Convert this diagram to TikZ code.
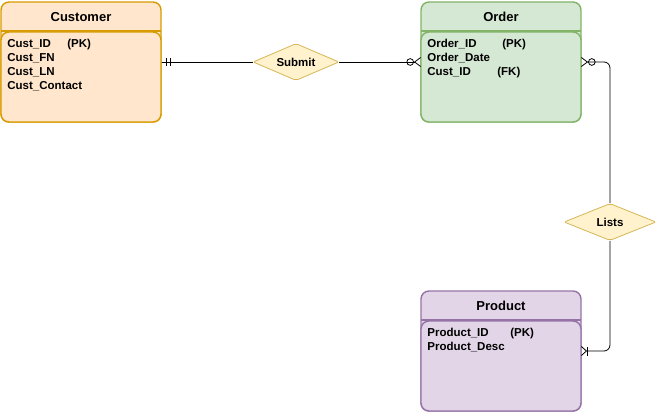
\documentclass[tikz,border=0pt]{standalone}
\usepackage{fontspec}
\setmainfont{Liberation Sans}
\usetikzlibrary{arrows.meta,positioning,shapes.geometric}

\definecolor{custfill}{HTML}{FFE6CC}
\definecolor{custline}{HTML}{D79B00}
\definecolor{ordfill}{HTML}{D5E8D4}
\definecolor{ordline}{HTML}{82B366}
\definecolor{prodfill}{HTML}{E1D5E7}
\definecolor{prodline}{HTML}{9673A6}
\definecolor{relfill}{HTML}{FFF2CC}
\definecolor{relline}{HTML}{D6B656}

\tikzset{
  entity/.style={draw=#1line, fill=#1fill, rounded corners=8pt, line width=1.4pt,
    minimum width=160pt, minimum height=120pt, inner sep=0pt, outer sep=0pt},
  title/.style={font=\bfseries\fontsize{13}{15}\selectfont},
  attrs/.style={anchor=north west, align=left, inner sep=0pt,
    font=\bfseries\fontsize{11.5}{14}\selectfont},
  rel/.style={diamond, aspect=2.4, draw=relline, fill=relfill, line width=0.8pt,
    rounded corners=2pt, inner sep=0pt, minimum width=#1, minimum height=37pt,
    font=\bfseries\fontsize{11.5}{13}\selectfont},
  one/.style={-{Bar[width=8pt,sep=3pt]Bar[width=8pt,sep=4pt]Bar[width=0.01pt]}},
  zeromany/.style={-{Circle[open,length=7.5pt,sep=0pt]Straight Barb[reversed,length=6pt,width=9pt]}},
  onemany/.style={-{Bar[width=9pt,sep=0pt]Straight Barb[reversed,length=5pt,width=9pt]}}
}

\begin{document}
\begin{tikzpicture}[x=1pt,y=-1pt,line width=0.8pt]
\useasboundingbox (0,0) rectangle (662,412);

\node[entity=cust] (customer) at (81,62) {};
\node[entity=ord] (order) [right=260pt of customer] {};
\node[entity=prod] (product) [below=169pt of order] {};

\foreach \e/\c in {customer/cust,order/ord,product/prod}{
  \draw[draw=\c line, line width=1.4pt] ([yshift=-29pt]\e.north west) -- ([yshift=-29pt]\e.north east);
  \draw[draw=\c line, fill=\c fill, line width=1.4pt, rounded corners=8pt]
    ([yshift=-30pt]\e.north west) rectangle (\e.south east);
}

\node[title] (customer-title) at ([yshift=-15pt]customer.north) {Customer};
\node[title] (order-title) at ([yshift=-15pt]order.north) {Order};
\node[title] (product-title) at ([yshift=-15pt]product.north) {Product};

\node[attrs] (customer-attrs) at ([xshift=6pt,yshift=-37pt]customer.north west)
  {\makebox[60pt][l]{Cust\_ID}(PK)\\ Cust\_FN\\ Cust\_LN\\ Cust\_Contact};
\node[attrs] (order-attrs) at ([xshift=6pt,yshift=-37pt]order.north west)
  {\makebox[75pt][l]{Order\_ID}(PK)\\ Order\_Date\\ \makebox[70pt][l]{Cust\_ID}(FK)};
\node[attrs] (product-attrs) at ([xshift=6pt,yshift=-37pt]product.north west)
  {\makebox[83pt][l]{Product\_ID}(PK)\\ Product\_Desc};

\node[rel=86pt] (submit) at (296,62) {Submit};
\node[rel=92pt] (lists) at (610,222) {Lists};

\draw[one] (submit.west) -- (customer.east);
\draw[zeromany] (submit.east) -- (order.west);
\draw[zeromany, rounded corners=6pt] (lists.north) |- (order.east);
\draw[onemany, rounded corners=6pt] (lists.south) |- (product.east);
\end{tikzpicture}
\end{document}
